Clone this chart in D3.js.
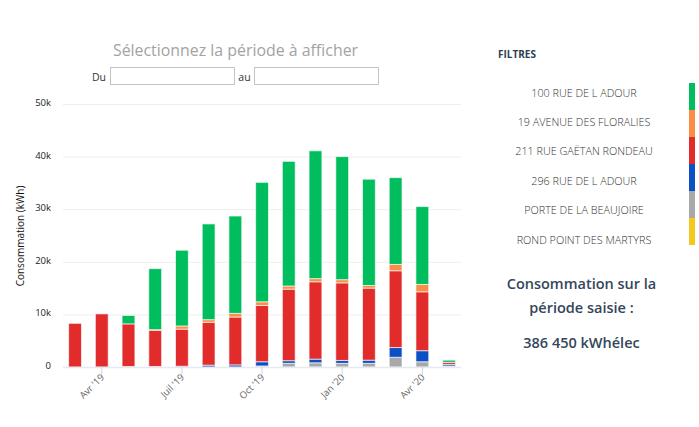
<!DOCTYPE html>
<html>
<head>
<meta charset="utf-8">
<style>
    body { margin: 0; background: white; font-family: "Open Sans", sans-serif; }
    #chart { display: block; }
    .grid line { stroke: #eeeeee; }
    .grid path { display: none; }
    input { position: absolute; box-sizing: border-box; height: 18px; width: 125px; top: 67px; border: 1px solid #c4c4c4; padding: 0; background: white; }
</style>
<script src="https://cdnjs.cloudflare.com/ajax/libs/d3/7.8.5/d3.min.js"></script>
</head>
<body>
<input style="left:110px"><input style="left:254px">
<svg id="chart" width="699" height="427"></svg>
<script>
let months = ["mars19","avr19","mai19","juin19","juil19","aout19","sept19","oct19","nov19","dec19","janv20","fevr20","mars20","avr20","mai20"]
let tickMonths = ["avr19","juil19","oct19","janv20","avr20"]
let tickLabels = ["Avr '19","Juil '19","Oct '19","Jan '20","Avr '20"]
let yTicks = [0,10000,20000,30000,40000,50000]

let sites = ["100 RUE DE L ADOUR","19 AVENUE DES FLORALIES","211 RUE GAËTAN RONDEAU","296 RUE DE L ADOUR","PORTE DE LA BEAUJOIRE","ROND POINT DES MARTYRS"]
let siteColors = ["#00bd5e","#fb8d45","#e22b2b","#0b50c4","#a8a8a8","#f4c81e"]

let greenVals  = [0,0,1600,11600,14400,18200,18500,22700,23700,24300,23400,20200,16500,14800,400]
let orangeVals = [0,0,0,100,600,500,700,700,600,600,600,500,1200,1400,0]
let redVals    = [8300,10100,8100,6900,7050,8150,9100,10700,13600,14700,14750,13700,14600,11200,400]
let blueVals   = [0,0,0,0,150,350,400,800,500,700,550,600,1850,2100,300]
let greyVals   = [0,0,100,100,0,0,0,200,700,800,700,700,1850,1000,200]
let yellowVals = [0,0,0,0,0,0,0,0,0,0,0,0,0,0,0]

// bottom of the stack first
let stackOrder = [
    {key: 4, vals: greyVals},
    {key: 5, vals: yellowVals},
    {key: 3, vals: blueVals},
    {key: 2, vals: redVals},
    {key: 1, vals: orangeVals},
    {key: 0, vals: greenVals}
]

let svg = d3.select("#chart")

let x = d3.scaleBand().domain(months).range([61.7,462.4]).paddingInner(0.52).paddingOuter(0.26)
let y = d3.scaleLinear().domain([0,50000]).range([367,104])

let rows = months.map((m,i) => {
    let r = {month: m}
    stackOrder.forEach(s => r[s.key] = s.vals[i])
    return r
})
let series = d3.stack().keys(stackOrder.map(s => s.key))(rows)

// grid
svg.append("g").attr("class","grid")
    .attr("transform","translate(63,0)")
    .call(d3.axisLeft(y).tickValues(yTicks).tickSize(-398).tickFormat(""))

// bars
svg.selectAll("g.serie").data(series).enter().append("g")
    .attr("class","serie")
    .attr("fill", d => siteColors[d.key])
    .selectAll("rect").data(d => d.filter(v => v[1] > v[0])).enter().append("rect")
    .attr("x", d => x(d.data.month))
    .attr("width", x.bandwidth())
    .attr("y", d => y(d[1]))
    .attr("height", d => y(d[0]) - y(d[1]))
    .attr("stroke","white")
    .attr("stroke-opacity",0.65)
    .attr("stroke-width",1)

// y axis
let yAxis = svg.append("g").attr("transform","translate(63,-1.5)")
    .call(d3.axisLeft(y).tickValues(yTicks).tickSize(0).tickPadding(12)
        .tickFormat(d => d == 0 ? "0" : (d/1000) + "k"))
yAxis.select("path").remove()
yAxis.selectAll("text").attr("font-size","9.5px").attr("font-family","Open Sans").attr("fill","#222")

// x axis
let xAxis = svg.append("g").attr("transform","translate(0,367)")
    .call(d3.axisBottom(x).tickValues(tickMonths).tickSize(8).tickSizeOuter(0)
        .tickFormat(d => tickLabels[tickMonths.indexOf(d)]))
xAxis.select("path").attr("stroke","#e6e9f2").attr("stroke-width",1.5).attr("d","M63,0.5H461")
xAxis.selectAll("line").attr("stroke","#ccd6eb")
xAxis.selectAll("text")
    .attr("font-size","9.5px").attr("font-family","Open Sans").attr("fill","#666")
    .attr("text-anchor","end").attr("dy",0).attr("y",0)
    .attr("transform","translate(3,11) rotate(-45)")

function label(txt, px, py, size, color, anchor, weight) {
    return svg.append("text").text(txt).attr("x",px).attr("y",py)
        .attr("font-size",size).attr("fill",color)
        .attr("text-anchor",anchor || "middle").attr("font-weight",weight || 400)
}

label("Sélectionnez la période à afficher",235.5,56,15.9,"#a3a3a3")
label("Du",99,81,10.5,"#333")
label("au",244.5,81,10.5,"#333")
label("Consommation (kWh)",0,0,10,"#111").attr("transform","translate(24,236) rotate(-90)")

// panneau de droite
label("FILTRES",498,58,10,"#2c3e50","start",700)
let rowH = 29.4
sites.forEach((s,i) => {
    label(s,584,96.5 + i*rowH,10.8,"#333","middle",300)
})
let swatch = d3.scaleBand().domain(sites).range([83,245])
svg.selectAll("rect.swatch").data(sites).enter().append("rect")
    .attr("class","swatch")
    .attr("x",689).attr("width",6)
    .attr("y", d => swatch(d)).attr("height",swatch.bandwidth())
    .attr("fill",(d,i) => siteColors[i])

label("Consommation sur la",581.5,289,14.5,"#34465a","middle",600)
label("période saisie :",581.5,313,14.5,"#34465a","middle",600)
label("386 450 kWhélec",581.5,348,14.5,"#34465a","middle",600)
</script>
</body>
</html>
